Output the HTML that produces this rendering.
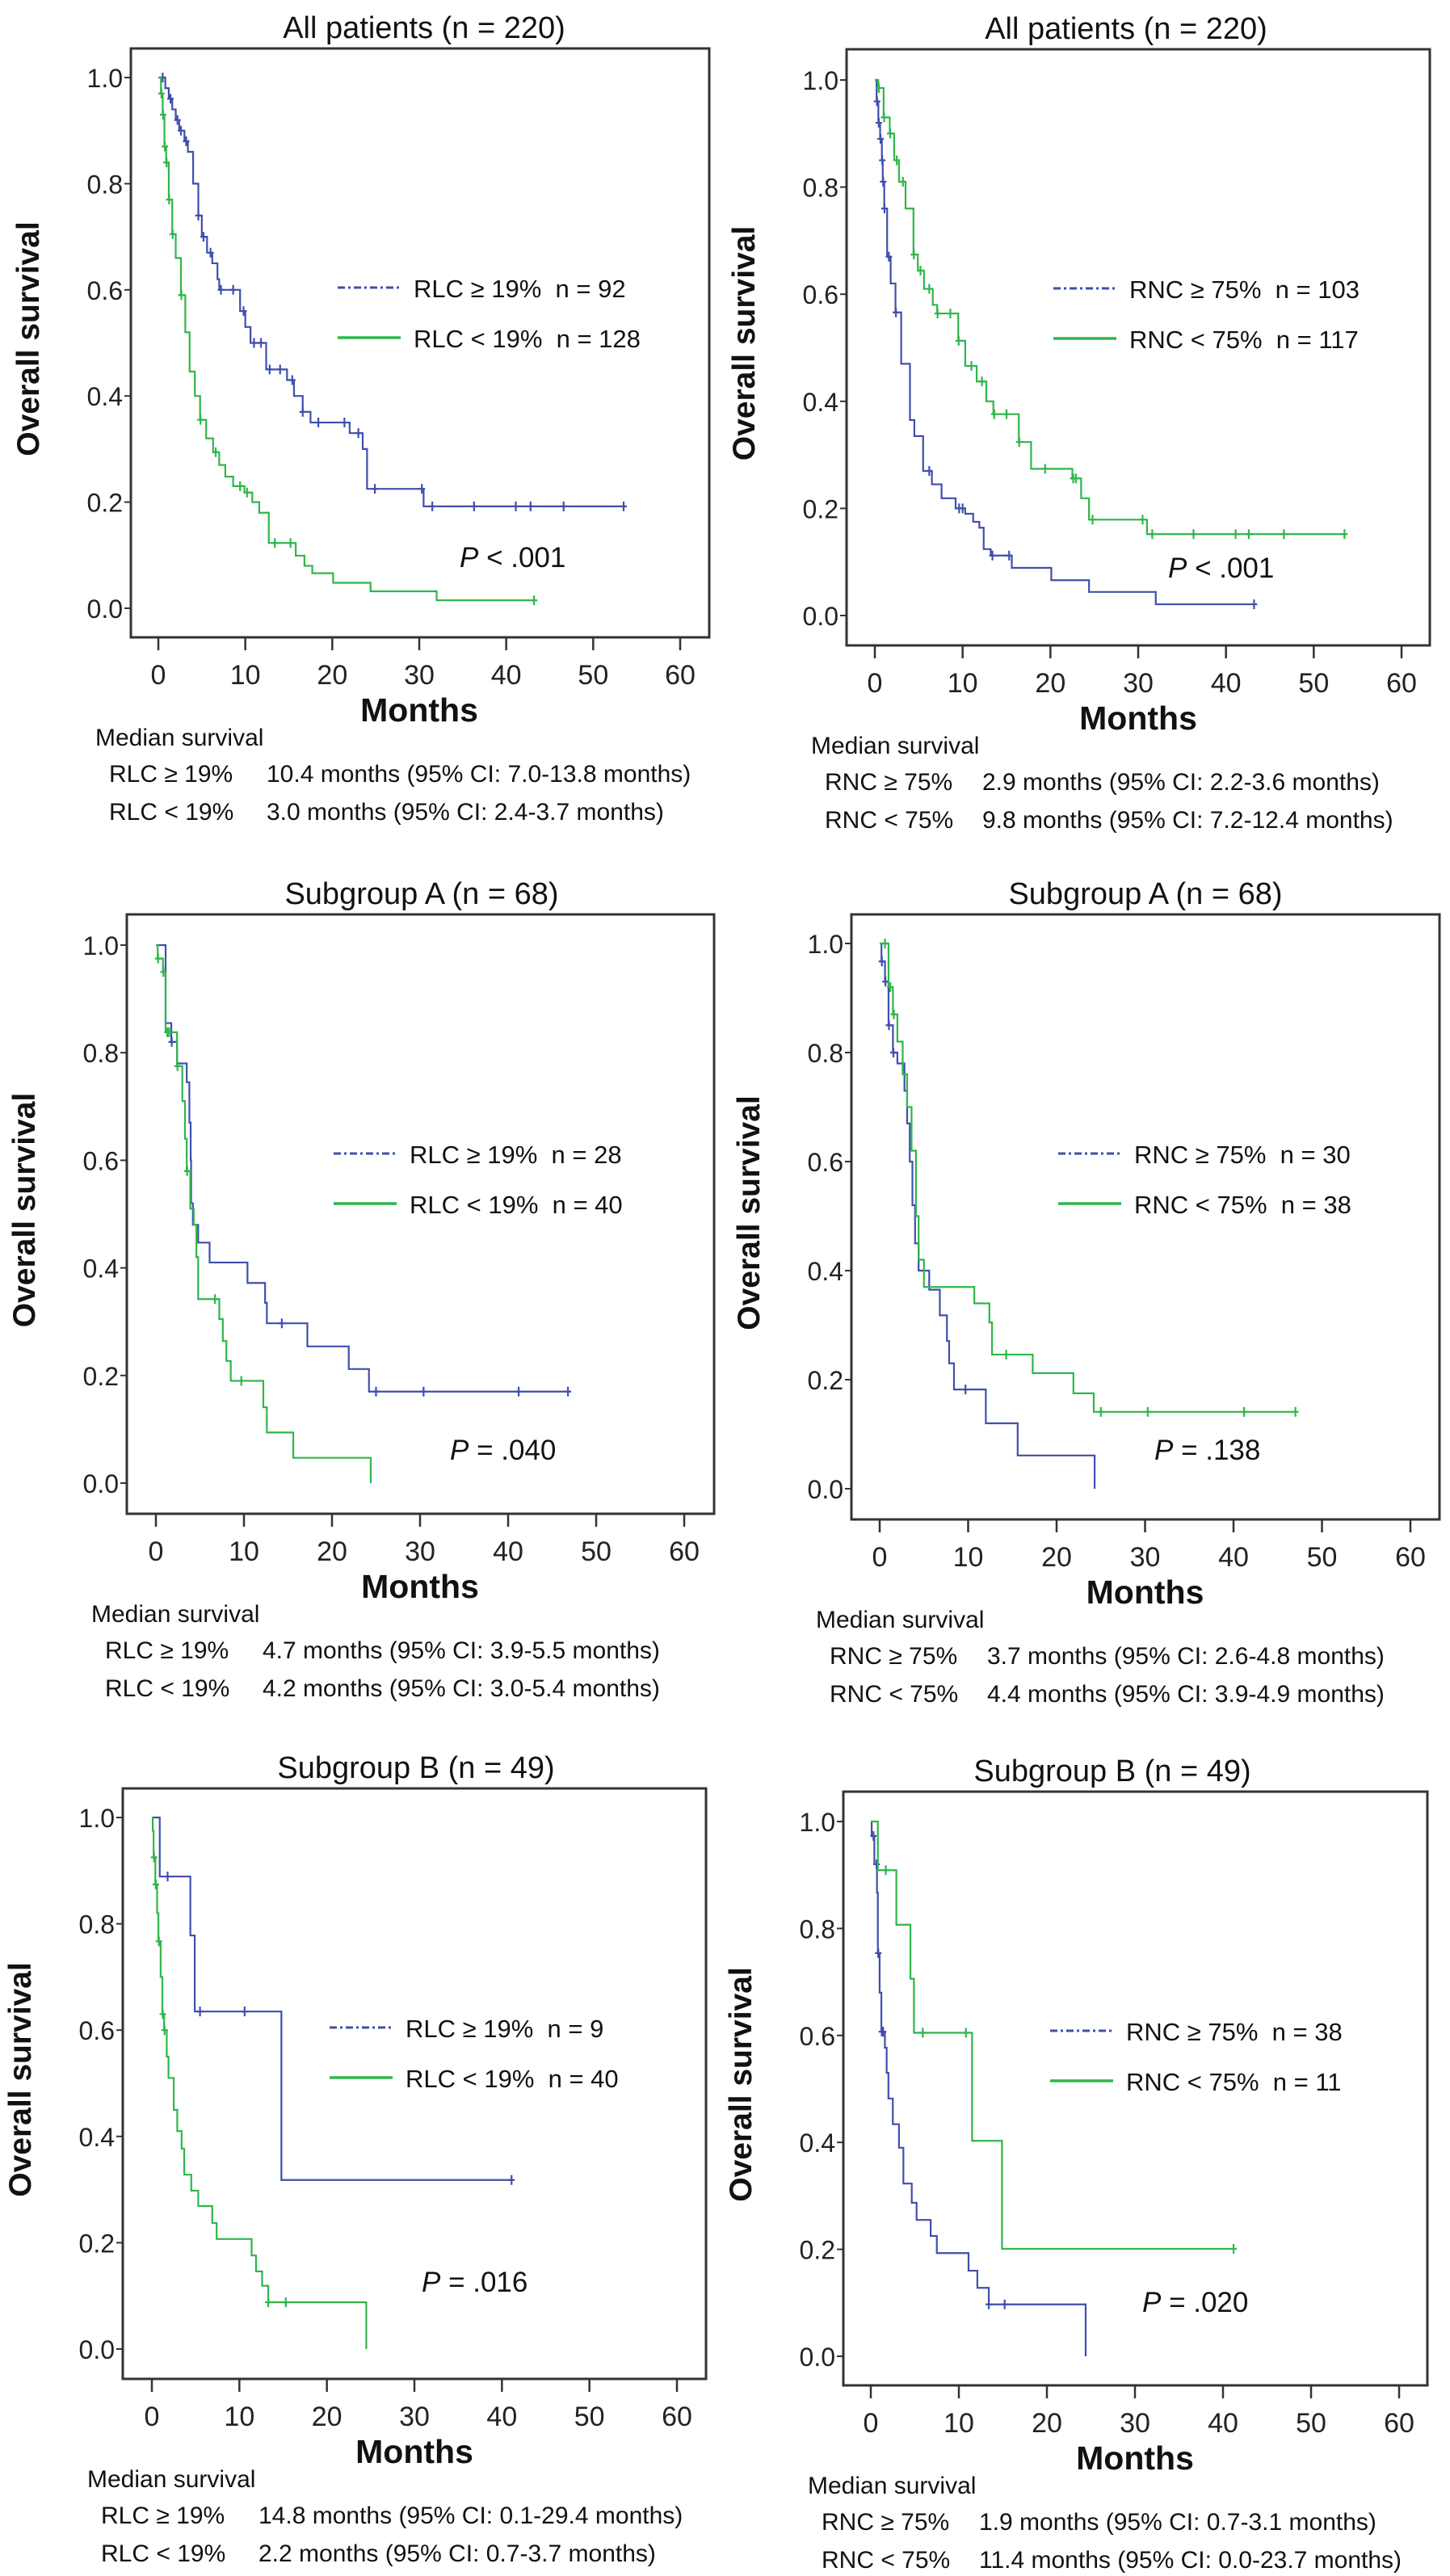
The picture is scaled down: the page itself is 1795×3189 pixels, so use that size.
<!DOCTYPE html>
<html><head><meta charset="utf-8"><style>
html,body{margin:0;padding:0;background:#fff;}
svg{display:block;font-family:"Liberation Sans",Arial,sans-serif;}
text{white-space:pre;}
</style></head><body>
<svg id="fig" width="1795" height="3189" viewBox="0 0 1795 3189" xmlns="http://www.w3.org/2000/svg"></svg>
<script>
// ===== Data: Kaplan-Meier step points [month, survival] and censor times =====
const yTicks=[0,0.2,0.4,0.6,0.8,1.0];
const yTickLabels=["0.0","0.2","0.4","0.6","0.8","1.0"];
const xTicks=[0,10,20,30,40,50,60];

const p1BlueSteps=[[0,1],[0.8,0.98],[1.2,0.96],[1.6,0.94],[2,0.92],[2.4,0.9],[3,0.88],[3.4,0.86],[4,0.8],[4.6,0.74],[5,0.7],[5.6,0.67],[6.2,0.65],[6.8,0.62],[7,0.6],[9.4,0.56],[10,0.53],[10.6,0.5],[12.4,0.45],[14.8,0.43],[15.6,0.4],[16.6,0.37],[17.5,0.35],[22,0.33],[23.5,0.3],[24,0.225],[30.5,0.192]];
const p1BlueEnd=53.5;
const p1BlueCensor=[0.5,1.4,2.2,2.6,3.2,4.6,5.2,6,7.2,8.6,9.8,11,11.8,12.8,14,15.4,16.6,18.4,21.4,23,24.9,30.3,31.5,36.3,41.1,42.8,46.6,53.5];
const p1GreenSteps=[[0,1],[0.3,0.97],[0.5,0.93],[0.7,0.87],[0.9,0.84],[1.2,0.77],[1.6,0.705],[2,0.66],[2.6,0.59],[3.1,0.52],[3.6,0.446],[4.2,0.4],[4.8,0.355],[5.5,0.32],[6.3,0.294],[7,0.27],[7.7,0.248],[8.6,0.23],[9.9,0.218],[10.8,0.2],[11.6,0.18],[12.7,0.123],[15.8,0.099],[16.8,0.08],[17.7,0.066],[20.1,0.048],[24.4,0.032],[32,0.015]];
const p1GreenEnd=43.2;
const p1GreenCensor=[0.35,0.55,0.75,0.95,1.25,1.65,2.65,4.85,6.6,9.4,10.2,13.4,15.2,43.2];

const p2BlueSteps=[[0,1],[0.2,0.96],[0.4,0.92],[0.6,0.89],[0.8,0.85],[0.9,0.81],[1.07,0.76],[1.4,0.67],[1.8,0.62],[2.35,0.566],[3,0.47],[4,0.365],[4.5,0.335],[5.5,0.27],[6.5,0.245],[7.6,0.219],[9.2,0.2],[10.3,0.19],[11.2,0.175],[11.9,0.164],[12.4,0.124],[13.2,0.112],[15.6,0.089],[20.1,0.066],[24.4,0.044],[32,0.021]];
const p2BlueEnd=43.2;
const p2BlueCensor=[0.25,0.45,0.65,0.85,0.95,1.1,1.6,2.4,6.2,9.6,10,13.4,15.3,43.2];
const p2GreenSteps=[[0,1],[0.4,0.985],[1,0.93],[1.7,0.9],[2.2,0.85],[2.75,0.81],[3.5,0.76],[4.4,0.674],[4.9,0.644],[5.6,0.61],[6.6,0.58],[7.1,0.564],[9.5,0.513],[10.3,0.466],[11.6,0.437],[12.7,0.4],[13.5,0.376],[16.4,0.324],[17.8,0.274],[22.5,0.256],[23.5,0.219],[24.4,0.179],[31,0.152]];
const p2GreenEnd=53.5;
const p2GreenCensor=[0.45,1.05,1.75,2.5,3.2,4.45,5.2,6.2,7.15,8.6,9.55,11,12.2,13.6,15,16.45,19.4,22.6,22.9,24.8,30.5,31.6,36.3,41.1,42.6,46.6,53.5];

const p3BlueSteps=[[0,1],[1.1,0.855],[1.75,0.82],[2.4,0.78],[3.5,0.745],[3.8,0.67],[3.95,0.6],[4.0,0.52],[4.2,0.48],[4.8,0.447],[6.1,0.41],[10.4,0.372],[12.4,0.335],[12.6,0.297],[17.2,0.254],[21.9,0.212],[24.2,0.17]];
const p3BlueEnd=46.8;
const p3BlueCensor=[1.8,14.3,25,30.4,41.2,46.8];
const p3GreenSteps=[[0,1],[0.2,0.975],[0.8,0.95],[1.1,0.838],[2.4,0.775],[3.0,0.71],[3.3,0.64],[3.5,0.58],[3.9,0.51],[4.3,0.48],[4.6,0.42],[4.8,0.342],[7.2,0.305],[7.6,0.264],[8.0,0.227],[8.5,0.19],[12.2,0.141],[12.6,0.094],[15.6,0.047],[24.4,0]];
const p3GreenEnd=24.4;
const p3GreenCensor=[0.25,0.85,1.3,1.5,2.45,3.55,6.7,9.7];

const p4BlueSteps=[[0,1],[0.2,0.967],[0.6,0.93],[1,0.85],[1.5,0.8],[2,0.78],[2.8,0.73],[3.1,0.67],[3.4,0.6],[3.7,0.52],[4,0.45],[4.4,0.4],[5.6,0.365],[6.8,0.318],[7.6,0.271],[7.85,0.23],[8.4,0.182],[12,0.12],[15.6,0.061],[24.3,0]];
const p4BlueEnd=24.3;
const p4BlueCensor=[0.25,0.65,1.05,1.55,9.7];
const p4GreenSteps=[[0,1],[1,0.92],[1.5,0.87],[2,0.82],[2.6,0.76],[3.1,0.7],[3.6,0.62],[4.1,0.5],[4.4,0.42],[5.0,0.37],[10.7,0.34],[12.4,0.305],[12.7,0.246],[17.3,0.212],[21.9,0.175],[24.2,0.141]];
const p4GreenEnd=47;
const p4GreenCensor=[0.6,1.2,1.6,14.3,25,30.3,41.2,47];

const p5BlueSteps=[[0,1],[0.9,0.889],[4.4,0.778],[4.9,0.635],[14.8,0.318]];
const p5BlueEnd=41.1;
const p5BlueCensor=[1.8,5.5,10.6,41.1];
const p5GreenSteps=[[0,1],[0.1,0.975],[0.2,0.925],[0.4,0.874],[0.6,0.82],[0.75,0.767],[1.0,0.7],[1.2,0.63],[1.4,0.6],[1.7,0.55],[1.9,0.51],[2.5,0.45],[2.9,0.41],[3.4,0.377],[3.7,0.328],[4.5,0.298],[5.3,0.269],[6.9,0.237],[7.4,0.207],[11.4,0.176],[11.9,0.146],[12.6,0.119],[13.3,0.088],[24.5,0]];
const p5GreenEnd=24.5;
const p5GreenCensor=[0.25,0.45,0.8,1.25,1.45,13.3,15.3];

const p6BlueSteps=[[0,1],[0.1,0.973],[0.4,0.92],[0.7,0.867],[0.8,0.754],[1.0,0.68],[1.2,0.607],[1.6,0.577],[1.8,0.53],[2.0,0.482],[2.5,0.434],[3.2,0.39],[3.7,0.323],[4.65,0.287],[5.2,0.255],[6.8,0.225],[7.5,0.193],[11.1,0.16],[12.1,0.128],[13.4,0.097],[24.4,0]];
const p6BlueEnd=24.4;
const p6BlueCensor=[0.3,0.65,0.85,1.25,1.4,13.4,15.2];
const p6GreenSteps=[[0,1],[0.8,0.909],[2.9,0.807],[4.5,0.706],[4.9,0.605],[11.5,0.403],[14.9,0.201]];
const p6GreenEnd=41.2;
const p6GreenCensor=[1.7,5.9,10.8,41.2];

// ===== Panel layout =====
const BLUE="#3f4fae", GREEN="#2fb64a";
const panels=[
 {id:"p1",L:162,T:60,R:878,B:789,x0:196,x60:842,y1:96,y0:753,title:"All patients (n = 220)",tx:525,
  leg:["RLC \u2265 19%  n = 92","RLC < 19%  n = 128"],pText:" < .001",px:569,py:702,
  med:["RLC \u2265 19%","10.4 months (95% CI: 7.0-13.8 months)","RLC < 19%","3.0 months (95% CI: 2.4-3.7 months)"],
  blue:[p1BlueSteps,p1BlueEnd,p1BlueCensor],green:[p1GreenSteps,p1GreenEnd,p1GreenCensor]},
 {id:"p2",L:1048,T:61,R:1770,B:799,x0:1083,x60:1735,y1:99,y0:762,title:"All patients (n = 220)",tx:1394,
  leg:["RNC \u2265 75%  n = 103","RNC < 75%  n = 117"],pText:" < .001",px:1446,py:715,
  med:["RNC \u2265 75%","2.9 months (95% CI: 2.2-3.6 months)","RNC < 75%","9.8 months (95% CI: 7.2-12.4 months)"],
  blue:[p2BlueSteps,p2BlueEnd,p2BlueCensor],green:[p2GreenSteps,p2GreenEnd,p2GreenCensor]},
 {id:"p3",L:157,T:1132,R:884,B:1874,x0:193,x60:847,y1:1170,y0:1836,title:"Subgroup A (n = 68)",tx:522,
  leg:["RLC \u2265 19%  n = 28","RLC < 19%  n = 40"],pText:" = .040",px:557,py:1807,
  med:["RLC \u2265 19%","4.7 months (95% CI: 3.9-5.5 months)","RLC < 19%","4.2 months (95% CI: 3.0-5.4 months)"],
  blue:[p3BlueSteps,p3BlueEnd,p3BlueCensor],green:[p3GreenSteps,p3GreenEnd,p3GreenCensor]},
 {id:"p4",L:1054,T:1132,R:1782,B:1881,x0:1089,x60:1746,y1:1168,y0:1843,title:"Subgroup A (n = 68)",tx:1418,
  leg:["RNC \u2265 75%  n = 30","RNC < 75%  n = 38"],pText:" = .138",px:1429,py:1807,
  med:["RNC \u2265 75%","3.7 months (95% CI: 2.6-4.8 months)","RNC < 75%","4.4 months (95% CI: 3.9-4.9 months)"],
  blue:[p4BlueSteps,p4BlueEnd,p4BlueCensor],green:[p4GreenSteps,p4GreenEnd,p4GreenCensor]},
 {id:"p5",L:152,T:2214,R:874,B:2945,x0:188,x60:838,y1:2250,y0:2908,title:"Subgroup B (n = 49)",tx:515,
  leg:["RLC \u2265 19%  n = 9","RLC < 19%  n = 40"],pText:" = .016",px:522,py:2837,
  med:["RLC \u2265 19%","14.8 months (95% CI: 0.1-29.4 months)","RLC < 19%","2.2 months (95% CI: 0.7-3.7 months)"],
  blue:[p5BlueSteps,p5BlueEnd,p5BlueCensor],green:[p5GreenSteps,p5GreenEnd,p5GreenCensor]},
 {id:"p6",L:1044,T:2218,R:1767,B:2953,x0:1078,x60:1732,y1:2255,y0:2917,title:"Subgroup B (n = 49)",tx:1377,
  leg:["RNC \u2265 75%  n = 38","RNC < 75%  n = 11"],pText:" = .020",px:1414,py:2862,
  med:["RNC \u2265 75%","1.9 months (95% CI: 0.7-3.1 months)","RNC < 75%","11.4 months (95% CI: 0.0-23.7 months)"],
  blue:[p6BlueSteps,p6BlueEnd,p6BlueCensor],green:[p6GreenSteps,p6GreenEnd,p6GreenCensor]}
];

const NS="http://www.w3.org/2000/svg";
const svg=document.getElementById("fig");
function mk(tag,attrs,parent,txt){const e=document.createElementNS(NS,tag);for(const k in attrs)e.setAttribute(k,attrs[k]);if(txt!==undefined)e.textContent=txt;(parent||svg).appendChild(e);return e;}
function survAt(steps,t){let s=1;for(const p of steps){if(p[0]<=t)s=p[1];else break;}return s;}

panels.forEach(P=>{
  const g=mk("g",{});
  
  
  const X=t=>P.x0+(P.x60-P.x0)*t/60;
  const Y=s=>P.y0-(P.y0-P.y1)*s;

  const title=mk("text",{x:P.tx,y:P.T-13,"font-size":38,"text-anchor":"middle",fill:"#111"},g,P.title);
  
  

  const frame=mk("rect",{x:P.L,y:P.T,width:P.R-P.L,height:P.B-P.T,fill:"none",stroke:"#333","stroke-width":3},g);
  
  

  yTicks.forEach((v,i)=>{
    const tk=mk("line",{x1:P.L-8,x2:P.L,y1:Y(v),y2:Y(v),stroke:"#333","stroke-width":2},g);
    
    
    const tl=mk("text",{x:P.L-10,y:Y(v)+12,"font-size":32,"text-anchor":"end",fill:"#222"},g,yTickLabels[i]);
    
    
  });
  xTicks.forEach(v=>{
    const tk=mk("line",{x1:X(v),x2:X(v),y1:P.B,y2:P.B+16,stroke:"#333","stroke-width":2.5},g);
    
    
    const tl=mk("text",{x:X(v),y:P.B+58,"font-size":34,"text-anchor":"middle",fill:"#222"},g,String(v));
    
    
  });
  const xt=mk("text",{x:(P.x0+P.x60)/2,y:P.B+104,"font-size":41,"font-weight":"bold","text-anchor":"middle",fill:"#111"},g,"Months");
  
  
  const cy=(P.T+P.B)/2-5, cx=P.L-114;
  const yt=mk("text",{x:cx,y:cy,"font-size":39,"font-weight":"bold","text-anchor":"middle",fill:"#111",transform:`rotate(-90 ${cx} ${cy})`},g,"Overall survival");
  
  

  // curves
  [["blue",BLUE,P.blue],["green",GREEN,P.green]].forEach(([nm,col,d])=>{
    const steps=d[0],end=d[1],cens=d[2];
    let path=`M${X(steps[0][0])},${Y(steps[0][1])}`;
    for(let i=1;i<steps.length;i++){path+=` H${X(steps[i][0])} V${Y(steps[i][1])}`;}
    path+=` H${X(end)}`;
    const ln=mk("path",{d:path,fill:"none",stroke:col,"stroke-width":2.2},g);
    
    
    cens.forEach(t=>{
      const yy=Y(survAt(steps,t));
      const c=mk("path",{d:`M${X(t)},${yy-6} V${yy+6} M${X(t)-4},${yy} H${X(t)+4}`,stroke:col,"stroke-width":2.2,fill:"none"},g);
      
      
    });
  });

  // legend
  const ly1=P.T+296, ly2=P.T+358;
  const l1=mk("line",{x1:P.L+256,x2:P.L+334,y1:ly1,y2:ly1,stroke:BLUE,"stroke-width":3,"stroke-dasharray":"9 4 3 4"},g);
  
  
  const t1=mk("text",{x:P.L+350,y:ly1+12,"font-size":31,fill:"#111"},g,P.leg[0]);
  
  
  const l2=mk("line",{x1:P.L+256,x2:P.L+334,y1:ly2,y2:ly2,stroke:GREEN,"stroke-width":3.5},g);
  
  
  const t2=mk("text",{x:P.L+350,y:ly2+12,"font-size":31,fill:"#111"},g,P.leg[1]);
  
  

  // p value
  const pv=mk("text",{x:P.px,y:P.py,"font-size":35,fill:"#111"},g);
  
  
  mk("tspan",{"font-style":"italic"},pv,"P");
  mk("tspan",{},pv,P.pText);

  // median survival
  const m0=mk("text",{x:P.L-44,y:P.B+134,"font-size":30,fill:"#111"},g,"Median survival");
  
  
  [0,1].forEach(i=>{
    const yy=P.B+179+i*47;
    const a=mk("text",{x:P.L-27,y:yy,"font-size":30,fill:"#111"},g,P.med[i*2]);
    
    
    const b=mk("text",{x:P.L+168,y:yy,"font-size":30,fill:"#111"},g,P.med[i*2+1]);
    
    
  });
});
</script>
</body></html>
